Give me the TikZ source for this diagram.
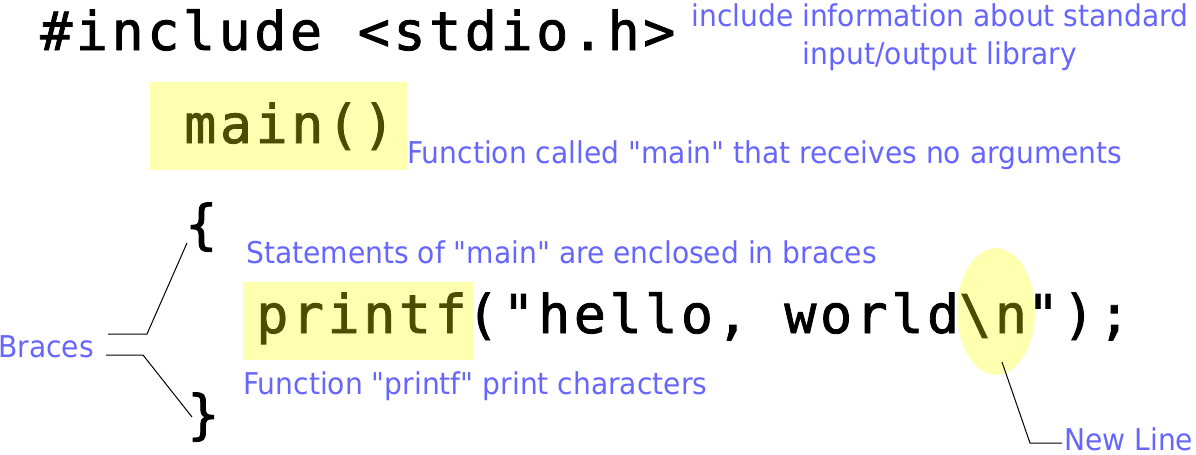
\documentclass[tikz,border=0pt]{standalone}
\usepackage{fontspec}
\newfontfamily\notefont[FakeStretch=0.938]{DejaVu Sans}
\newfontfamily\codefont[LetterSpace=6.7, FakeBold=1.5]{DejaVu Sans Mono}
\usepackage{xcolor}
\definecolor{cNote}{HTML}{6666FF}
\definecolor{cMark}{HTML}{FFFFB0}
\definecolor{cKey}{HTML}{4D4D00}
\usetikzlibrary{shapes.geometric}

\begin{document}
\begin{tikzpicture}[x=0.75pt, y=-0.75pt,
    code/.style={anchor=base west, inner sep=0pt,
                 font=\codefont\fontsize{40}{40}\selectfont},
    note/.style={anchor=base west, inner sep=0pt, text=cNote,
                 font=\notefont\fontsize{22.5}{28.5}\selectfont},
    hilite/.style={fill=cMark},
    lead/.style={draw=black, line width=0.75pt}
]
\useasboundingbox (0,0) rectangle (1196,454);

% yellow marks behind the code
\path[hilite] (150,82) rectangle (407,170);
\path[hilite] (243,282) rectangle (473,360);
\node[hilite, ellipse, inner sep=0pt, minimum width=58.5pt, minimum height=95pt]
    (nlmark) at (996,311.5) {};

% code
\node[code] (inc) at (40,50) {\#include <stdio.h>};
\node[code, text=cKey] (mainfn) at (184,143) {main()};
\node[code] (lbrace) at (185,243) {\{};
\node[code] (call) at (256,333)
    {\textcolor{cKey}{printf}("hello, world\textcolor{cKey}{\textbackslash n}");};
\node[code] (rbrace) at (187,433) {\}};

% notes
\node[note, align=center, anchor=north] (incnote) at (940,3)
    {include information about standard\\input/output library};
\node[note] (mainnote) at (407,163) {Function called "main" that receives no arguments};
\node[note] (stmnote) at (246,263) {Statements of "main" are enclosed in braces};
\node[note] (callnote) at (243,394) {Function "printf" print characters};
\node[note] (bracesnote) at (-2,357) {Braces};
\node[note] (nlnote) at (1064,450) {New Line};

% leaders
\coordinate (upA) at (108,334);
\coordinate (upB) at (147,334);
\coordinate (upC) at (187,243);
\coordinate (loA) at (106,355);
\coordinate (loB) at (143,355);
\coordinate (loC) at (192,417);
\draw[lead] (upA) -- (upB) -- (upC);
\draw[lead] (loA) -- (loB) -- (loC);

\coordinate (nlA) at (1002,362);
\coordinate (nlB) at (1030,443);
\coordinate (nlC) at (1062,443);
\draw[lead] (nlA) -- (nlB) -- (nlC);
\end{tikzpicture}
\end{document}
